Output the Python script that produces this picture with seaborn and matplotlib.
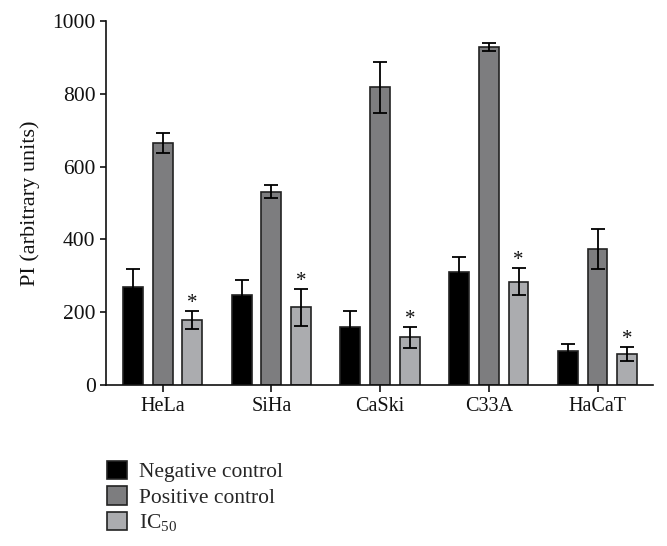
import numpy as np
import pandas as pd
import matplotlib
matplotlib.use("Agg")
import matplotlib.pyplot as plt
import seaborn as sns

# values
cell_lines = ["HeLa", "SiHa", "CaSki", "C33A", "HaCaT"]
groups = ["Negative control", "Positive control", "IC$_{\\mathregular{50}}$"]
negative = [270, 247, 160, 311, 93]
positive = [665, 531, 818, 929, 374]
ic50 = [178, 213, 131, 284, 85]
negative_err = [50, 42, 44, 41, 20]
positive_err = [27, 18, 70, 11, 55]
ic50_err = [24, 50, 29, 38, 19]
significant = [True, True, True, True, True]

colors = ["#000000", "#7d7d7f", "#aaabb0"]

sns.set_theme(style="ticks")
plt.rcParams["font.family"] = ["Liberation Serif", "DejaVu Serif"]
plt.rcParams["mathtext.fontset"] = "custom"
plt.rcParams["mathtext.rm"] = "Liberation Serif"

df = pd.DataFrame({
    "Cell line": cell_lines * 3,
    "Group": [g for g in groups for _ in cell_lines],
    "PI": negative + positive + ic50,
})
errors = [negative_err, positive_err, ic50_err]

fig = plt.figure(figsize=(6.67, 5.46), dpi=100)
ax = fig.add_axes([106 / 667, 1 - 385 / 546, (653 - 106) / 667, (385 - 21) / 546])

sns.barplot(
    data=df, x="Cell line", y="PI", hue="Group",
    palette=colors, width=0.82, gap=0.33,
    edgecolor="#222222", linewidth=1.2, errorbar=None,
    legend=True, ax=ax,
)

# error bars and significance marks on top of the seaborn bars
bar_containers = list(ax.containers)
for gi, container in enumerate(bar_containers):
    xs = [p.get_x() + p.get_width() / 2 for p in container.patches]
    hs = [p.get_height() for p in container.patches]
    ax.errorbar(xs, hs, yerr=errors[gi], fmt="none", ecolor="#000000",
                elinewidth=1.3, capsize=5, capthick=1.3, zorder=5)
    if gi == 2:
        for x, h, e, s in zip(xs, hs, errors[gi], significant):
            if s:
                ax.text(x, h + e - 5, "*", ha="center", va="bottom",
                        fontsize=15, color="#111111")

ax.set_ylim(0, 1000)
ax.set_xlim(-0.52, 4.51)
ax.set_yticks(range(0, 1001, 200))
ax.set_xlabel("")
ax.set_ylabel("PI (arbitrary units)", fontsize=16, color="#111111", labelpad=9)
ax.tick_params(axis="y", labelsize=15.5, colors="#111111", width=1.2, length=4)
ax.tick_params(axis="x", labelsize=14.5, colors="#111111", width=1.2, length=5)
for side in ["left", "bottom"]:
    ax.spines[side].set_linewidth(1.2)
    ax.spines[side].set_color("#111111")
sns.despine(ax=ax)

handles, labels = ax.get_legend_handles_labels()
ax.get_legend().remove()
fig.legend(handles, labels, loc="upper left", bbox_to_anchor=(98 / 667, 1 - 452 / 546),
           frameon=False, fontsize=15.5, handlelength=0.95, handleheight=0.95,
           handletextpad=0.55, labelspacing=0.18, borderaxespad=0)

fig.savefig("out.png", dpi=100)
plt.close(fig)
